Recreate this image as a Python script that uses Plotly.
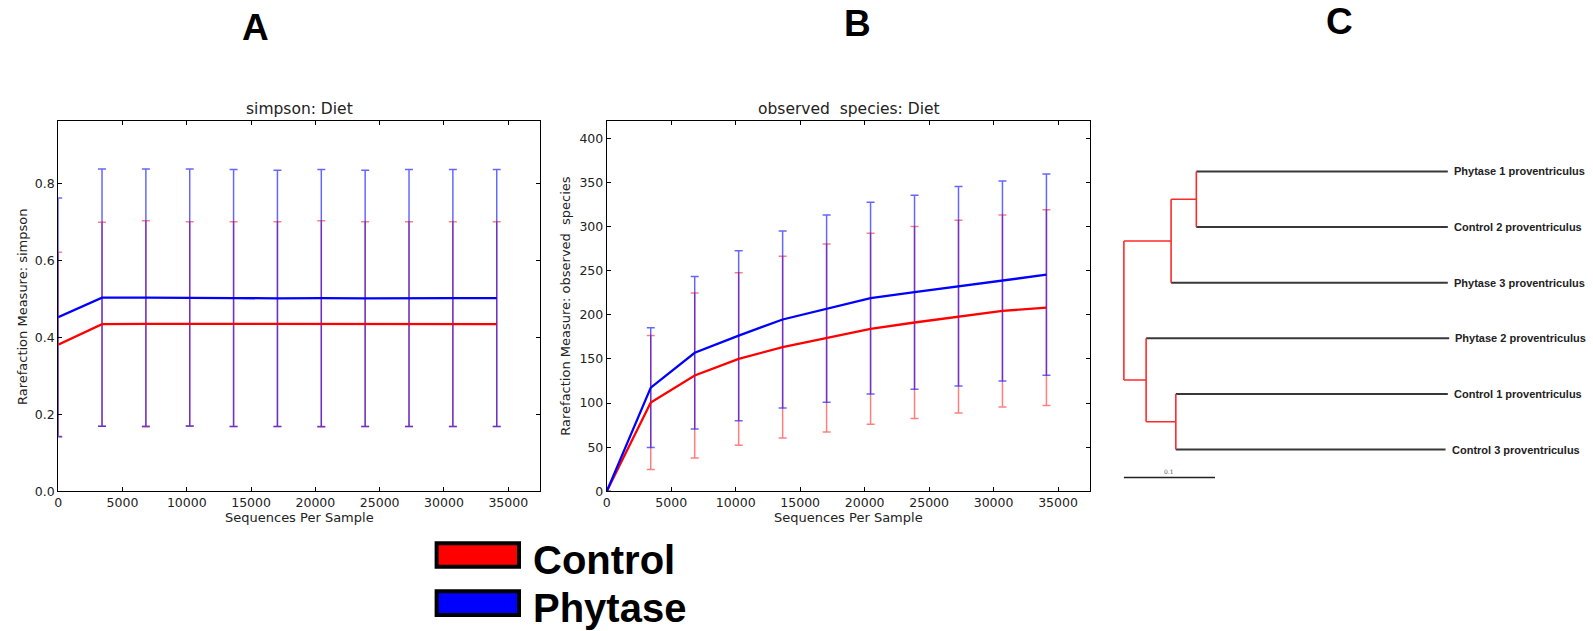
import plotly.graph_objects as go

W, H = 1593, 631

# ---------------- data ----------------
seqs = [0, 3410, 6820, 10230, 13640, 17050, 20460, 23870, 27280, 30690, 34100]

simpson_control = [0.381, 0.434, 0.435, 0.435, 0.434, 0.434, 0.435, 0.434, 0.434, 0.434, 0.434]
simpson_control_sd = [0.240, 0.265, 0.268, 0.265, 0.266, 0.266, 0.268, 0.266, 0.266, 0.266, 0.266]
simpson_phytase = [0.452, 0.503, 0.503, 0.503, 0.502, 0.501, 0.502, 0.501, 0.502, 0.502, 0.502]
simpson_phytase_sd = [0.310, 0.334, 0.334, 0.334, 0.334, 0.333, 0.334, 0.333, 0.334, 0.334, 0.334]

obs_control = [0, 100.6, 131.2, 149.9, 163.3, 173.7, 184.1, 191.2, 197.9, 204.3, 208.0]
obs_control_sd = [0, 76.0, 93.4, 97.7, 102.9, 106.5, 108.1, 108.7, 109.2, 108.7, 110.9]
obs_phytase = [0, 117.4, 156.9, 176.3, 194.6, 206.9, 218.8, 225.5, 232.2, 238.2, 245.3]
obs_phytase_sd = [0, 67.9, 86.3, 96.3, 100.3, 106.0, 108.6, 109.8, 113.0, 113.4, 114.0]

x_ticks = [0, 5000, 10000, 15000, 20000, 25000, 30000, 35000]
x_tick_labels = ["0", "5000", "10000", "15000", "20000", "25000", "30000", "35000"]
simpson_ticks = [0.0, 0.2, 0.4, 0.6, 0.8]
simpson_tick_labels = ["0.0", "0.2", "0.4", "0.6", "0.8"]
obs_ticks = [0, 50, 100, 150, 200, 250, 300, 350, 400]
obs_tick_labels = ["0", "50", "100", "150", "200", "250", "300", "350", "400"]

group_names = ["Control", "Phytase"]

# dendrogram (UPGMA-like tree)
leaf_names = ["Phytase 1 proventriculus", "Control 2 proventriculus", "Phytase 3 proventriculus",
              "Phytase 2 proventriculus", "Control 1 proventriculus", "Control 3 proventriculus"]
leaf_depth = [0.3555, 0.3555, 0.3555, 0.357, 0.3555, 0.353]
node_children = {"n1": ["L0", "L1"], "n2": ["n1", "L2"], "n3": ["L4", "L5"],
                 "n4": ["L3", "n3"], "root": ["n2", "n4"]}
node_depth = {"n1": 0.0795, "n2": 0.0518, "n3": 0.0570, "n4": 0.0244, "root": 0.0}
scale_bar_len = 0.1

# ---------------- styling ----------------
RED, BLUE = "#ff0000", "#0000ff"
RED_ERR, BLUE_ERR = "rgba(255,0,0,0.5)", "rgba(0,0,255,0.6)"
TXT = "#222222"
FONT = "DejaVu Sans"


def px_x(p):
    return p / W


def px_y(p):
    return 1 - p / H


fig = go.Figure()


def add_panel(xa, ya, ctrl, ctrl_sd, phy, phy_sd):
    for m, sd, c in [(ctrl, ctrl_sd, RED_ERR), (phy, phy_sd, BLUE_ERR)]:
        fig.add_trace(go.Scatter(
            x=seqs, y=m, mode="markers", marker=dict(size=1, opacity=0),
            error_y=dict(type="data", array=sd, visible=True, color=c, thickness=1.5, width=4),
            xaxis=xa, yaxis=ya, showlegend=False, hoverinfo="skip"))
    for m, c, n in [(ctrl, RED, group_names[0]), (phy, BLUE, group_names[1])]:
        fig.add_trace(go.Scatter(x=seqs, y=m, mode="lines", line=dict(color=c, width=2.3),
                                 name=n, xaxis=xa, yaxis=ya, showlegend=False))


add_panel("x", "y", simpson_control, simpson_control_sd, simpson_phytase, simpson_phytase_sd)
add_panel("x2", "y2", obs_control, obs_control_sd, obs_phytase, obs_phytase_sd)

# ---- dendrogram ----
pos_y = {f"L{i}": i for i in range(len(leaf_names))}
pos_x = {f"L{i}": d for i, d in enumerate(leaf_depth)}


def resolve(n):
    if n in pos_y:
        return pos_y[n]
    ys = [resolve(c) for c in node_children[n]]
    pos_y[n] = sum(ys) / len(ys)
    pos_x[n] = node_depth[n]
    return pos_y[n]


resolve("root")
red_x, red_y, blk_x, blk_y = [], [], [], []
for n, ch in node_children.items():
    ys = [pos_y[c] for c in ch]
    red_x += [pos_x[n], pos_x[n], None]
    red_y += [min(ys), max(ys), None]
    for c in ch:
        if c.startswith("L"):
            blk_x += [pos_x[n], pos_x[c], None]
            blk_y += [pos_y[c], pos_y[c], None]
        else:
            red_x += [pos_x[n], pos_x[c], None]
            red_y += [pos_y[c], pos_y[c], None]

fig.add_trace(go.Scatter(x=blk_x, y=blk_y, mode="lines", line=dict(color="#383838", width=2),
                         xaxis="x3", yaxis="y3", showlegend=False, hoverinfo="skip"))
fig.add_trace(go.Scatter(x=red_x, y=red_y, mode="lines", line=dict(color="#ff2a2a", width=1.6),
                         xaxis="x3", yaxis="y3", showlegend=False, hoverinfo="skip"))
sb_y = len(leaf_names) - 0.5
fig.add_trace(go.Scatter(x=[0, scale_bar_len], y=[sb_y, sb_y], mode="lines",
                         line=dict(color="#222222", width=1.6),
                         xaxis="x3", yaxis="y3", showlegend=False, hoverinfo="skip"))

annotations = []
for i, name in enumerate(leaf_names):
    annotations.append(dict(x=leaf_depth[i], y=i, xref="x3", yref="y3", text=f"<b>{name}</b>",
                            showarrow=False, xanchor="left", yanchor="middle", xshift=4,
                            font=dict(family="Liberation Sans", size=11, color="#222222")))
annotations.append(dict(x=scale_bar_len / 2, y=sb_y, xref="x3", yref="y3", text=str(scale_bar_len),
                        showarrow=False, xanchor="center", yanchor="bottom", yshift=0,
                        font=dict(family="DejaVu Serif", size=6, color="#555555")))

# ---- axes ----
axis_common = dict(showline=True, linecolor="black", linewidth=1, mirror="allticks",
                   ticks="inside", ticklen=4, tickcolor="black", showgrid=False, zeroline=False,
                   tickfont=dict(family=FONT, size=12.5, color=TXT))

A_L, A_R, TOP, BOT = 54.3, 537.8, 122.3, 496.8
B_L, B_R = 604.3, 1089.0

fig.update_layout(
    width=W, height=H, margin=dict(l=0, r=0, t=0, b=0),
    paper_bgcolor="white", plot_bgcolor="white", showlegend=False,
    xaxis=dict(domain=[px_x(A_L), px_x(A_R)], range=[0, 37500], tickvals=x_ticks,
               ticktext=x_tick_labels, anchor="y", **axis_common),
    yaxis=dict(domain=[px_y(BOT), px_y(TOP)], range=[0, 0.962], tickvals=simpson_ticks,
               ticktext=simpson_tick_labels, anchor="x", **axis_common),
    xaxis2=dict(domain=[px_x(B_L), px_x(B_R)], range=[0, 37500], tickvals=x_ticks,
                ticktext=x_tick_labels, anchor="y2", **axis_common),
    yaxis2=dict(domain=[px_y(BOT), px_y(TOP)], range=[0, 419.5], tickvals=obs_ticks,
                ticktext=obs_tick_labels, anchor="x2", **axis_common),
    xaxis3=dict(domain=[px_x(1100), 1.0], range=[-0.02486, 0.51484], visible=False, anchor="y3"),
    yaxis3=dict(domain=[px_y(500), px_y(140)], range=[5.806, -0.592], visible=False, anchor="x3"),
)

# panel titles & axis titles
for cx, title, ytitle, ytx in [((A_L + A_R) / 2, "simpson: Diet", "Rarefaction Measure: simpson", 18),
                               ((B_L + B_R) / 2, "observed\u00a0 species: Diet",
                                "Rarefaction Measure: observed\u00a0 species", 563)]:
    annotations.append(dict(x=px_x(cx), y=px_y(110), xref="paper", yref="paper", text=title,
                            showarrow=False, xanchor="center", yanchor="middle",
                            font=dict(family=FONT, size=15.5, color=TXT)))
    annotations.append(dict(x=px_x(cx), y=px_y(523), xref="paper", yref="paper",
                            text="Sequences Per Sample", showarrow=False, xanchor="center",
                            yanchor="middle", font=dict(family=FONT, size=13, color=TXT)))
    annotations.append(dict(x=px_x(ytx), y=px_y((TOP + BOT) / 2), xref="paper", yref="paper",
                            text=ytitle, showarrow=False, textangle=-90, xanchor="center",
                            yanchor="middle", font=dict(family=FONT, size=13, color=TXT)))

# panel letters
for letter, lx, ly in [("A", 252, 28), ("B", 856, 24), ("C", 1339, 22)]:
    annotations.append(dict(x=px_x(lx), y=px_y(ly), xref="paper", yref="paper",
                            text=f"<b>{letter}</b>", showarrow=False, xanchor="center",
                            yanchor="middle",
                            font=dict(family="Liberation Sans", size=37, color="black")))

# custom legend
shapes = []
for (name, fill), (y0, y1), dy in zip(zip(group_names, [RED, BLUE]), [(549.3, 573.0), (598.0, 622.0)],
                                      [5, 5]):
    shapes.append(dict(type="rect", xref="paper", yref="paper",
                       x0=px_x(433.7), x1=px_x(516.3), y0=px_y(y1), y1=px_y(y0),
                       fillcolor=fill, line=dict(color="black", width=4)))
    annotations.append(dict(x=px_x(528), y=px_y((y0 + y1) / 2 + dy), xref="paper", yref="paper",
                            text=f"<b>{name}</b>", showarrow=False, xanchor="left",
                            yanchor="middle",
                            font=dict(family="Liberation Sans", size=40, color="black")))

fig.update_layout(annotations=annotations, shapes=shapes)
fig.write_html("out.html")
